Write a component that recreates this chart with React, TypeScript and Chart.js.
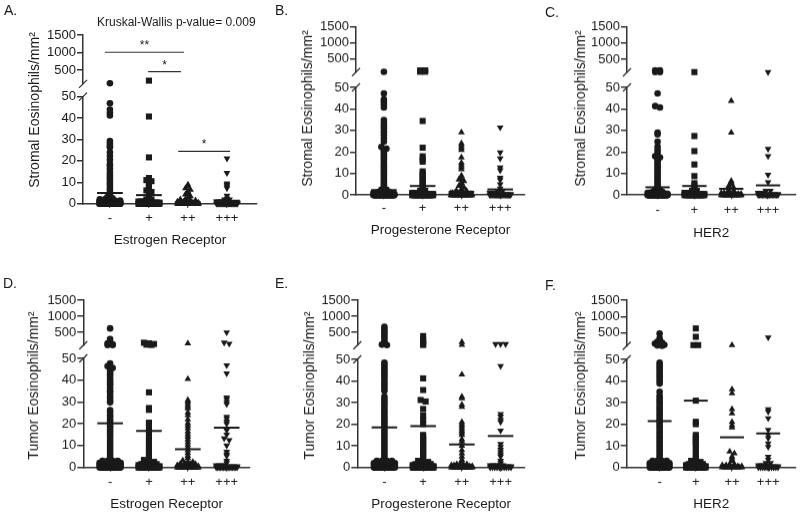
import React, { useEffect, useRef } from "react";
import { Chart, registerables } from "chart.js";
Chart.register(...registerables);

const FONT = "'Liberation Sans', Arial, Helvetica, sans-serif";
Chart.defaults.font.family = FONT;

const CATS = ["-", "+", "++", "+++"];
const STROMAL = "Stromal Eosinophils/mm\u00B2";
const TUMOR = "Tumor Eosinophils/mm\u00B2";

const rep = (v: number, n: number) => Array.from({ length: n }, () => v);

// ---------- Panel A: Stromal, Estrogen Receptor ----------
const A_NEG = [120, 46.9, 44.0, 42.5, 41.2, 29.3, 28.3, 27.2, 26.4, 24.0, 22.3, 20.5, 18.5, 17.7, 16.3, 14.8, 13.5, 12.3, 11.2, 9.9, 8.9, 7.6, 6.5, 5.3, 4.2, 3.1, 2.5, ...rep(2, 2), ...rep(1.5, 3), ...rep(1, 8), ...rep(0.5, 10), ...rep(0, 45)];
const A_POS = [194, 40.7, 21.6, 12.0, 11.0, 10.5, 10.0, 9.0, 8.0, 7.0, 6.2, 5.5, 4.8, 3.0, ...rep(2, 2), ...rep(1, 5), ...rep(0.5, 6), ...rep(0, 30)];
const A_PP = [8.9, 8.0, 7.2, 6.5, 5.8, 5.0, 4.3, 3.5, 2.8, ...rep(2, 2), ...rep(1.5, 2), ...rep(1, 5), ...rep(0.5, 6), ...rep(0, 35)];
const A_PPP = [21.1, 14.3, 9.5, 8.7, 8.0, 7.2, 3.7, 2.5, ...rep(2, 2), ...rep(1, 5), ...rep(0.5, 5), ...rep(0, 25)];
const A_MEANS = [5.0, 4.0, 0.6, 1.4];
const A_BRACKETS = [
  { from: -0.13, to: 1.9, y: 1006, axis: "yUp", label: "**" },
  { from: 0.98, to: 1.82, y: 451, axis: "yUp", label: "*" },
  { from: 1.75, to: 3.08, y: 24.4, axis: "yLow", label: "*" },
];

// ---------- Panel B: Stromal, Progesterone Receptor ----------
const B_NEG = [105, 47.2, 44.4, 43.3, 42.1, 40.7, 34.8, 33.3, 32.0, 31.0, 29.4, 27.9, 26.3, 24.8, 22.4, 21.5, 20.5, 19.5, 18.5, 17.5, 16.5, 15.5, 14.5, 13.5, 12.5, 11.5, 10.5, 9.5, 8.5, 7.5, 6.5, 5.5, 4.5, 3.5, ...rep(2.5, 2), ...rep(1.5, 3), ...rep(1, 8), ...rep(0.5, 10), ...rep(0, 45)];
const B_POS = [150, 150, 110, 110, 34.4, 22.0, 18.0, 16.6, 15.5, 11, 10, 9, 8, 7, 6, 5, 4, 3, ...rep(2, 2), ...rep(1, 5), ...rep(0.5, 6), ...rep(0, 30)];
const B_PP = [29.1, 24.0, 23.0, 22.0, 21.0, 17.5, 15.0, 14.0, 13.0, 12.0, 9, 8, 7.2, 6.5, 5.8, 5, 4.3, 3.5, 2.8, ...rep(2, 3), ...rep(1, 5), ...rep(0.5, 8), ...rep(0, 35)];
const B_PPP = [31.4, 19.8, 17.0, 12.8, 11.5, 8, 7, 5, 3, ...rep(2, 2), ...rep(1, 4), ...rep(0.5, 5), ...rep(0, 20)];
const B_MEANS = [2.3, 4.2, 1.5, 2.6];

// ---------- Panel C: Stromal, HER2 ----------
const C_NEG = [165, 165, 110, 110, 47.2, 41.3, 40.7, 29.0, 28.2, 24.8, 22.5, 21, 19.5, 18, 17.5, 16.5, 15.5, 14.5, 13.5, 12.5, 11.5, 10.5, 9.5, 8.5, 7.5, 6.5, 5.5, 4.5, 3.5, ...rep(2.5, 2), ...rep(1.5, 3), ...rep(1, 8), ...rep(0.5, 10), ...rep(0, 45)];
const C_POS = [110, 27.4, 20.4, 14.2, 8.8, 5.5, 4.5, 3, ...rep(2, 2), ...rep(1, 4), ...rep(0.5, 5), ...rep(0, 25)];
const C_PP = [43.7, 29.0, 6.5, 5.8, 5.0, 4.3, 3.5, ...rep(2, 2), ...rep(1, 3), ...rep(0.5, 5), ...rep(0, 25)];
const C_PPP = [110, 21.4, 18.1, 9.4, 6.0, ...rep(2, 2), ...rep(1, 3), ...rep(0.5, 4), ...rep(0, 15)];
const C_MEANS = [3.6, 4.2, 2.9, 4.5];

// ---------- Panel D: Tumor, Estrogen Receptor ----------
const D_NEG = [624, 293, 200, 160, 130, 110, 105, 47.7, 46.4, 45.6, 44.2, 43.1, 42.3, 41.0, 39.8, 38.7, 37.9, 36.5, 35.2, 34.4, 33.0, 31.9, 30.6, 29.8, 26.3, 25.2, 24.0, 23.1, 21.8, 20.6, 19.5, 18.3, 17.2, 16.0, 14.9, 13.7, 12.4, 11.3, 10.1, 9.0, 7.8, 6.7, 5.5, 4.4, ...rep(3, 4), ...rep(2, 6), ...rep(1, 10), ...rep(0, 45)];
const D_POS = [180, 160, 140, 120, 110, 34.4, 27.2, 26.4, 20.5, 19.5, 18.2, 16.3, 14.5, 13.2, 11.8, 10.5, 9.2, 8.1, 7.0, 6.0, 5.0, 4.2, 3.4, ...rep(2.5, 2), ...rep(1.5, 4), ...rep(1, 5), ...rep(0.5, 6), ...rep(0, 28)];
const D_PP = [160, 40.5, 30.9, 30.0, 29.0, 28.0, 27.0, 25.2, 24.0, 22.0, 20.3, 19.2, 18.0, 16.5, 15.2, 14.0, 12.8, 11.5, 10.2, 9.0, 7.8, 6.5, 5.3, 4.2, 3.2, ...rep(2.5, 2), ...rep(1.5, 4), ...rep(1, 5), ...rep(0.5, 6), ...rep(0, 25)];
const D_PPP = [500, 185, 150, 46.8, 43.1, 32.1, 31.2, 30.0, 29.0, 23.2, 22.3, 21.0, 20.0, 17.0, 15.0, 13.3, 12.5, 10.0, 7.2, 6.0, 5.2, 3.0, 2.0, ...rep(1, 4), ...rep(0.5, 4), ...rep(0, 15)];
const D_MEANS = [20.2, 16.7, 8.3, 18.2];

// ---------- Panel E: Tumor, Progesterone Receptor ----------
const E_NEG = [673, 600, 530, 450, 370, 290, 210, 150, 120, 105, 48.5, 47.3, 46.2, 45.0, 43.8, 42.7, 41.5, 40.2, 39.1, 38.0, 36.8, 35.5, 32.8, 31.6, 30.4, 29.3, 28.1, 26.9, 25.7, 24.6, 23.4, 22.2, 21.0, 19.9, 18.7, 17.5, 16.3, 15.2, 14.0, 12.8, 11.6, 10.5, 9.3, 8.1, 6.9, 5.8, 4.6, ...rep(3, 4), ...rep(2, 6), ...rep(1, 10), ...rep(0, 45)];
const E_POS = [385, 260, 200, 150, 110, 41.2, 35.8, 31.2, 30.5, 27.0, 24.0, 22.0, 20.0, 15, 14, 13, 12, 11, 10, 9, 8, 7, 6, 5, 4, 3, ...rep(2.5, 2), ...rep(1.5, 4), ...rep(1, 6), ...rep(0.5, 8), ...rep(0, 35)];
const E_PP = [200, 110, 43.0, 32.7, 32.0, 29.0, 28.0, 21, 20, 19, 18, 17, 16, 15, 13, 12, 10, 8, 6.5, 5, 3.5, 2.5, ...rep(1.5, 3), ...rep(1, 4), ...rep(0.5, 5), ...rep(0, 20)];
const E_PPP = [138, 138, 138, 46.9, 24.7, 23.5, 22.0, 21.0, 17.0, 10.8, 9.5, 8.2, 7.0, 6.0, 5.0, 3.0, 2.0, ...rep(1, 6), ...rep(0.5, 3), ...rep(0, 10)];
const E_MEANS = [18.5, 19.1, 10.6, 14.5];

// ---------- Panel F: Tumor, HER2 ----------
const F_NEG = [480, 329, 250, 220, 200, 170, 150, 130, 115, 105, 48.5, 47.2, 46.1, 44.9, 43.6, 42.5, 41.3, 40.1, 38.8, 35.0, 33.1, 31.9, 30.7, 29.5, 28.2, 27.1, 25.9, 24.7, 23.5, 22.3, 21.1, 19.9, 18.8, 17.6, 16.4, 15.1, 14.0, 12.8, 11.6, 10.4, 9.2, 8.0, 6.9, 5.7, 4.5, ...rep(3, 4), ...rep(2, 6), ...rep(1, 10), ...rep(0, 45)];
const F_POS = [634, 378, 124, 124, 30.9, 21.1, 20.0, 15, 14, 13, 12, 11, 10, 8, 7, 5, 4, 3, ...rep(2.5, 2), ...rep(1.5, 4), ...rep(1, 5), ...rep(0.5, 6), ...rep(0, 25)];
const F_PP = [124, 36.1, 34.3, 26.9, 25.0, 21.0, 19.5, 18.5, 7.3, 6.5, 5, 4, 3, ...rep(1.5, 2), ...rep(1, 3), ...rep(0.5, 3), ...rep(0, 10)];
const F_PPP = [359, 26.9, 25.8, 22.7, 17.3, 15.0, 13.5, 11.1, 9.5, 4.9, 3.5, ...rep(2, 2), ...rep(1, 4), ...rep(0.5, 4), ...rep(0, 10)];
const F_MEANS = [21.4, 30.9, 13.9, 15.7];

const UP_TICKS = [500, 1000, 1500];
const STYLES = ["circle", "rect", "triangle", "triangle"];
const ROTS = [0, 0, 0, 180];
const RADII = [3.3, 4.3, 3.9, 3.9];
const INK = "#1a1a1a";
const AXIS = "#333";

type Spec = {
  id: string; left: number; top: number; axisX: number; rightX: number; y1500: number;
  upperH: number; gapH: number; lowerH: number; labelY: number; titleY: number;
  xmin: number; xmax: number; yTitleX: number; yTitleY: number;
  groups: number[][]; means: number[]; yTitle: string; xTitle: string; brackets: any[];
};

const PANELS: Spec[] = [
  { id: "A", left: 0, top: 14, axisX: 83, rightX: 257, y1500: 35, upperH: 49, gapH: 12.7, lowerH: 107.3, labelY: 219, titleY: 240.5, xmin: -0.69, xmax: 3.77, yTitleX: 35, yTitleY: 110, groups: [A_NEG, A_POS, A_PP, A_PPP], means: A_MEANS, yTitle: STROMAL, xTitle: "Estrogen Receptor", brackets: A_BRACKETS },
  { id: "B", left: 270, top: 0, axisX: 356, rightX: 525, y1500: 26.7, upperH: 45.2, gapH: 15.4, lowerH: 107.7, labelY: 208.3, titleY: 230, xmin: -0.72, xmax: 3.64, yTitleX: 308, yTitleY: 108, groups: [B_NEG, B_POS, B_PP, B_PPP], means: B_MEANS, yTitle: STROMAL, xTitle: "Progesterone Receptor", brackets: [] },
  { id: "C", left: 540, top: 0, axisX: 627, rightX: 798, y1500: 26.7, upperH: 45.6, gapH: 15, lowerH: 107.7, labelY: 210, titleY: 233, xmin: -0.83, xmax: 3.75, yTitleX: 581, yTitleY: 108, groups: [C_NEG, C_POS, C_PP, C_PPP], means: C_MEANS, yTitle: STROMAL, xTitle: "HER2", brackets: [] },
  { id: "D", left: 0, top: 280, axisX: 83.3, rightX: 250, y1500: 300, upperH: 45.2, gapH: 13.1, lowerH: 109, labelY: 482.3, titleY: 504, xmin: -0.69, xmax: 3.6, yTitleX: 34, yTitleY: 385, groups: [D_NEG, D_POS, D_PP, D_PPP], means: D_MEANS, yTitle: TUMOR, xTitle: "Estrogen Receptor", brackets: [] },
  { id: "E", left: 270, top: 280, axisX: 357.3, rightX: 525, y1500: 300, upperH: 45.2, gapH: 14.1, lowerH: 108, labelY: 482.3, titleY: 504, xmin: -0.7, xmax: 3.63, yTitleX: 310, yTitleY: 385, groups: [E_NEG, E_POS, E_PP, E_PPP], means: E_MEANS, yTitle: TUMOR, xTitle: "Progesterone Receptor", brackets: [] },
  { id: "F", left: 540, top: 280, axisX: 626.7, rightX: 798, y1500: 300, upperH: 45.8, gapH: 13.5, lowerH: 108, labelY: 482.3, titleY: 504, xmin: -0.91, xmax: 3.76, yTitleX: 581, yTitleY: 385, groups: [F_NEG, F_POS, F_PP, F_PPP], means: F_MEANS, yTitle: TUMOR, xTitle: "HER2", brackets: [] },
];

const LETTERS = [
  { t: "A.", x: 4, y: 3 }, { t: "B.", x: 275, y: 3 }, { t: "C.", x: 545, y: 5 },
  { t: "D.", x: 3, y: 276 }, { t: "E.", x: 275, y: 276 }, { t: "F.", x: 545, y: 278 },
];

// beeswarm-like horizontal spreading of points that share a row
function swarm(values: number[], group: number) {
  const rows = new Map<string, number[]>();
  values.forEach((v) => {
    const key = v > 50 ? "u" + Math.round((v - 100) / 60) : "l" + Math.round(v);
    if (!rows.has(key)) rows.set(key, []);
    rows.get(key)!.push(v);
  });
  const pts: { x: number; y: number }[] = [];
  const half = 0.27;
  rows.forEach((vs) => {
    const n = vs.length;
    const step = n > 1 ? Math.min(0.13, (2 * half) / (n - 1)) : 0;
    vs.forEach((v, k) => pts.push({ x: group + (k - (n - 1) / 2) * step, y: v }));
  });
  return pts;
}

const decorPlugin = {
  id: "decor",
  afterDraw(chart: any, _args: any, opts: any) {
    const { ctx, chartArea, scales } = chart;
    ctx.save();
    ctx.fillStyle = INK;
    ctx.font = `14px ${FONT}`;
    ctx.textAlign = "center";
    ctx.textBaseline = "middle";
    ctx.save();
    ctx.translate(opts.titleX, opts.titleY);
    ctx.rotate(-Math.PI / 2);
    ctx.fillText(opts.yTitle, 0, 0);
    ctx.restore();
    ctx.strokeStyle = AXIS;
    ctx.lineWidth = 1.3;
    const ax = chartArea.left;
    [scales.yUp.bottom, scales.yLow.top].forEach((y: number) => {
      ctx.beginPath();
      ctx.moveTo(ax - 4, y + 4);
      ctx.lineTo(ax + 4, y - 4);
      ctx.stroke();
    });
    ctx.font = `12px ${FONT}`;
    ctx.textBaseline = "alphabetic";
    (opts.brackets || []).forEach((b: any) => {
      const x = scales.x.getPixelForValue((b.from + b.to) / 2);
      const y = scales[b.axis].getPixelForValue(b.y);
      ctx.fillText(b.label, x, y - 3);
    });
    ctx.restore();
  },
};

function Panel({ spec }: { spec: Spec }) {
  const ref = useRef<HTMLCanvasElement>(null);
  const right = Math.min(spec.rightX + 6, 800);
  const width = right - spec.left;
  const padR = right - spec.rightX;
  const padTop = spec.y1500 - spec.top;
  const y0 = spec.y1500 + spec.upperH + spec.gapH + spec.lowerH;
  const height = spec.titleY + 7.8 - spec.top;
  const xAxisH = spec.titleY + 7.8 - y0;
  const tickPad = spec.labelY - y0 - 4 - 7.8;
  const yW = spec.axisX - spec.left;

  useEffect(() => {
    const datasets: any[] = [];
    spec.means.forEach((m, g) => {
      datasets.push({
        type: "line", data: [{ x: g - 0.33, y: m }, { x: g + 0.33, y: m }],
        yAxisID: "yLow", borderColor: INK, borderWidth: 2, pointRadius: 0, order: 0, clip: false,
      });
    });
    spec.brackets.forEach((b: any) => {
      datasets.push({
        type: "line", data: [{ x: b.from, y: b.y }, { x: b.to, y: b.y }],
        yAxisID: b.axis, borderColor: AXIS, borderWidth: 1.2, pointRadius: 0, order: 0, clip: false,
      });
    });
    spec.groups.forEach((vals, g) => {
      const pts = swarm(vals, g);
      const common = {
        type: "scatter", pointStyle: STYLES[g], rotation: ROTS[g], pointRadius: RADII[g],
        backgroundColor: INK, borderColor: INK, borderWidth: 0, order: 1, clip: false,
      };
      datasets.push({ ...common, data: pts.filter((p) => p.y <= 50), yAxisID: "yLow" });
      datasets.push({ ...common, data: pts.filter((p) => p.y > 50), yAxisID: "yUp" });
    });

    const tickFont = { family: FONT, size: 13 };
    const fmt = (v: any) => String(v);
    const yCommon = (w: number) => ({
      type: "linear", position: "left", stack: "y",
      grid: { display: true, drawOnChartArea: false, drawTicks: true, tickLength: 6, color: AXIS, lineWidth: 1.5 },
      border: { display: true, color: AXIS, width: 1.5 },
      afterFit: (s: any) => { s.width = w; },
    });

    const chart = new Chart(ref.current!, {
      type: "scatter",
      data: { datasets },
      options: {
        responsive: false, animation: false, devicePixelRatio: 1,
        layout: { padding: { left: 0, top: padTop, right: padR, bottom: 0 } },
        plugins: {
          legend: { display: false }, tooltip: { enabled: false },
          decor: { titleX: spec.yTitleX - spec.left, titleY: spec.yTitleY - spec.top, yTitle: spec.yTitle, brackets: spec.brackets },
        } as any,
        scales: {
          x: {
            type: "linear", position: "bottom", min: spec.xmin, max: spec.xmax,
            afterBuildTicks: (s: any) => { s.ticks = CATS.map((_, i) => ({ value: i })); },
            ticks: { font: tickFont, color: INK, padding: tickPad, autoSkip: false, maxRotation: 0, callback: (v: any) => CATS[v] ?? "" },
            grid: { display: true, drawOnChartArea: false, drawTicks: true, tickLength: 4, color: AXIS, lineWidth: 1.2 },
            border: { display: true, color: AXIS, width: 1.5 },
            title: { display: true, text: spec.xTitle, font: { family: FONT, size: 13.5 }, color: INK, padding: { top: 0, bottom: 0 } },
            afterFit: (s: any) => { s.height = xAxisH; },
          },
          yUp: {
            ...yCommon(yW), weight: 2, stackWeight: spec.upperH, min: 100, max: 1500,
            ticks: { font: tickFont, color: INK, padding: 1, autoSkip: false, callback: fmt },
            afterBuildTicks: (s: any) => { s.ticks = UP_TICKS.map((v) => ({ value: v })); },
          },
          yGap: {
            type: "linear", position: "left", stack: "y", weight: 1, stackWeight: spec.gapH,
            ticks: { display: false }, grid: { display: false }, border: { display: false },
            afterFit: (s: any) => { s.width = yW; },
          },
          yLow: {
            ...yCommon(yW), weight: 0, stackWeight: spec.lowerH, min: 0, max: 50,
            ticks: { font: tickFont, color: INK, padding: 1, stepSize: 10, autoSkip: false, callback: fmt },
          },
        } as any,
      },
      plugins: [decorPlugin as any],
    } as any);
    return () => chart.destroy();
  }, []);

  return (
    <canvas
      ref={ref}
      width={width}
      height={height}
      style={{ position: "absolute", left: spec.left, top: spec.top, width, height }}
    />
  );
}

export default function App() {
  return (
    <div style={{ position: "fixed", left: 0, top: 0, width: 800, height: 513, background: "#fff", overflow: "hidden", fontFamily: FONT, color: INK }}>
      {PANELS.map((p) => <Panel key={p.id} spec={p} />)}
      {LETTERS.map((l) => (
        <div key={l.t} style={{ position: "absolute", left: l.x, top: l.y, fontSize: 14, lineHeight: "14px" }}>{l.t}</div>
      ))}
      <div style={{ position: "absolute", left: 97, top: 16, fontSize: 12, lineHeight: "13px", whiteSpace: "nowrap" }}>
        Kruskal-Wallis p-value= 0.009
      </div>
    </div>
  );
}
